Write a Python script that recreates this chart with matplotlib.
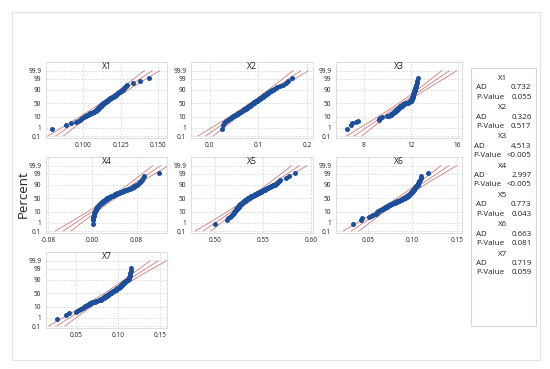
import numpy as np
import matplotlib
matplotlib.use('Agg')
import matplotlib.pyplot as plt
from matplotlib.patches import Rectangle
from statistics import NormalDist

plt.rcParams['font.family'] = ['Open Sans', 'DejaVu Sans']

# sorted sample values (n = 90 per variable)
x1 = [0.0792, 0.0884, 0.0915, 0.0951, 0.0962, 0.0975, 0.0985, 0.0993, 0.1004, 0.1012,
      0.1020, 0.1026, 0.1031, 0.1037, 0.1042, 0.1047, 0.1056, 0.1065, 0.1070, 0.1074,
      0.1078, 0.1082, 0.1086, 0.1089, 0.1092, 0.1094, 0.1096, 0.1098, 0.1101, 0.1103,
      0.1106, 0.1108, 0.1110, 0.1112, 0.1113, 0.1115, 0.1117, 0.1119, 0.1121, 0.1124,
      0.1125, 0.1127, 0.1129, 0.1131, 0.1133, 0.1135, 0.1138, 0.1141, 0.1144, 0.1147,
      0.1149, 0.1152, 0.1155, 0.1158, 0.1160, 0.1163, 0.1165, 0.1168, 0.1171, 0.1173,
      0.1176, 0.1178, 0.1183, 0.1187, 0.1191, 0.1196, 0.1201, 0.1205, 0.1209, 0.1212,
      0.1216, 0.1220, 0.1224, 0.1228, 0.1232, 0.1235, 0.1239, 0.1244, 0.1250, 0.1255,
      0.1259, 0.1263, 0.1267, 0.1273, 0.1279, 0.1287, 0.1295, 0.1335, 0.1380, 0.1442]
x2 = [0.0250, 0.0270, 0.0290, 0.0310, 0.0340, 0.0370, 0.0400, 0.0430, 0.0460, 0.0480,
      0.0500, 0.0520, 0.0540, 0.0560, 0.0577, 0.0590, 0.0604, 0.0618, 0.0631, 0.0645,
      0.0658, 0.0669, 0.0682, 0.0692, 0.0706, 0.0716, 0.0726, 0.0737, 0.0749, 0.0758,
      0.0767, 0.0776, 0.0785, 0.0794, 0.0800, 0.0809, 0.0818, 0.0827, 0.0836, 0.0845,
      0.0853, 0.0861, 0.0869, 0.0877, 0.0886, 0.0894, 0.0903, 0.0912, 0.0921, 0.0930,
      0.0938, 0.0948, 0.0957, 0.0967, 0.0976, 0.0986, 0.0992, 0.1002, 0.1012, 0.1021,
      0.1031, 0.1040, 0.1053, 0.1062, 0.1071, 0.1080, 0.1092, 0.1101, 0.1113, 0.1122,
      0.1134, 0.1146, 0.1158, 0.1170, 0.1182, 0.1194, 0.1210, 0.1227, 0.1244, 0.1261,
      0.1282, 0.1302, 0.1326, 0.1353, 0.1390, 0.1440, 0.1500, 0.1560, 0.1600, 0.1680]
x3 = [6.52, 6.86, 6.97, 7.32, 7.46, 9.25, 9.30, 9.40, 9.50, 10.00,
      10.10, 10.21, 10.27, 10.33, 10.39, 10.44, 10.48, 10.53, 10.58, 10.62,
      10.67, 10.70, 10.75, 10.79, 10.83, 10.86, 10.89, 10.92, 10.95, 10.98,
      11.01, 11.04, 11.07, 11.10, 11.12, 11.16, 11.19, 11.23, 11.26, 11.30,
      11.33, 11.36, 11.39, 11.45, 11.54, 11.63, 11.71, 11.76, 11.81, 11.85,
      11.88, 11.92, 11.96, 11.98, 12.01, 12.03, 12.05, 12.06, 12.07, 12.08,
      12.09, 12.10, 12.12, 12.13, 12.14, 12.15, 12.16, 12.17, 12.18, 12.19,
      12.20, 12.21, 12.22, 12.23, 12.24, 12.25, 12.26, 12.27, 12.28, 12.30,
      12.32, 12.35, 12.37, 12.40, 12.42, 12.44, 12.47, 12.50, 12.55, 12.62]
x4 = [0.0010, 0.0013, 0.0016, 0.0020, 0.0023, 0.0027, 0.0032, 0.0039, 0.0045, 0.0050,
      0.0056, 0.0060, 0.0065, 0.0069, 0.0074, 0.0078, 0.0082, 0.0085, 0.0089, 0.0095,
      0.0102, 0.0107, 0.0115, 0.0121, 0.0128, 0.0134, 0.0140, 0.0145, 0.0154, 0.0161,
      0.0169, 0.0176, 0.0183, 0.0191, 0.0196, 0.0203, 0.0210, 0.0218, 0.0225, 0.0233,
      0.0239, 0.0246, 0.0253, 0.0260, 0.0267, 0.0275, 0.0286, 0.0296, 0.0306, 0.0317,
      0.0326, 0.0338, 0.0349, 0.0360, 0.0372, 0.0385, 0.0393, 0.0405, 0.0417, 0.0430,
      0.0442, 0.0455, 0.0474, 0.0488, 0.0503, 0.0517, 0.0536, 0.0551, 0.0570, 0.0586,
      0.0608, 0.0630, 0.0652, 0.0674, 0.0694, 0.0709, 0.0728, 0.0746, 0.0761, 0.0776,
      0.0793, 0.0810, 0.0824, 0.0841, 0.0858, 0.0875, 0.0890, 0.0910, 0.0940, 0.1210]
x5 = [0.4993, 0.5125, 0.5135, 0.5150, 0.5160, 0.5180, 0.5189, 0.5195, 0.5201, 0.5206,
      0.5210, 0.5214, 0.5218, 0.5222, 0.5226, 0.5229, 0.5233, 0.5236, 0.5240, 0.5243,
      0.5247, 0.5249, 0.5253, 0.5256, 0.5259, 0.5263, 0.5267, 0.5270, 0.5276, 0.5280,
      0.5284, 0.5288, 0.5292, 0.5295, 0.5298, 0.5302, 0.5306, 0.5310, 0.5314, 0.5318,
      0.5323, 0.5327, 0.5332, 0.5336, 0.5341, 0.5346, 0.5350, 0.5355, 0.5360, 0.5364,
      0.5369, 0.5376, 0.5382, 0.5389, 0.5395, 0.5402, 0.5406, 0.5413, 0.5419, 0.5426,
      0.5433, 0.5439, 0.5448, 0.5454, 0.5461, 0.5468, 0.5476, 0.5483, 0.5492, 0.5498,
      0.5507, 0.5516, 0.5525, 0.5534, 0.5543, 0.5552, 0.5563, 0.5575, 0.5585, 0.5596,
      0.5608, 0.5621, 0.5632, 0.5643, 0.5655, 0.5665, 0.5680, 0.5745, 0.5770, 0.5835]
x6 = [0.0340, 0.0430, 0.0440, 0.0520, 0.0540, 0.0560, 0.0588, 0.0600, 0.0609, 0.0617,
      0.0629, 0.0640, 0.0651, 0.0662, 0.0673, 0.0681, 0.0689, 0.0697, 0.0705, 0.0712,
      0.0720, 0.0726, 0.0734, 0.0740, 0.0748, 0.0756, 0.0764, 0.0773, 0.0785, 0.0793,
      0.0802, 0.0811, 0.0819, 0.0827, 0.0832, 0.0840, 0.0847, 0.0855, 0.0862, 0.0870,
      0.0876, 0.0883, 0.0889, 0.0896, 0.0902, 0.0908, 0.0915, 0.0921, 0.0927, 0.0934,
      0.0937, 0.0943, 0.0947, 0.0951, 0.0955, 0.0960, 0.0963, 0.0967, 0.0971, 0.0975,
      0.0978, 0.0981, 0.0985, 0.0988, 0.0991, 0.0994, 0.0998, 0.1001, 0.1004, 0.1007,
      0.1011, 0.1015, 0.1019, 0.1023, 0.1026, 0.1030, 0.1035, 0.1040, 0.1044, 0.1048,
      0.1053, 0.1058, 0.1064, 0.1069, 0.1074, 0.1080, 0.1086, 0.1095, 0.1100, 0.1180]
x7 = [0.0272, 0.0376, 0.0412, 0.0490, 0.0505, 0.0535, 0.0555, 0.0574, 0.0589, 0.0602,
      0.0615, 0.0625, 0.0636, 0.0647, 0.0658, 0.0667, 0.0680, 0.0692, 0.0705, 0.0721,
      0.0738, 0.0750, 0.0767, 0.0780, 0.0790, 0.0796, 0.0801, 0.0807, 0.0815, 0.0821,
      0.0827, 0.0832, 0.0838, 0.0844, 0.0848, 0.0853, 0.0859, 0.0865, 0.0870, 0.0876,
      0.0881, 0.0886, 0.0891, 0.0896, 0.0901, 0.0907, 0.0912, 0.0917, 0.0922, 0.0927,
      0.0932, 0.0938, 0.0943, 0.0949, 0.0955, 0.0960, 0.0964, 0.0970, 0.0976, 0.0981,
      0.0987, 0.0993, 0.1001, 0.1006, 0.1012, 0.1018, 0.1025, 0.1029, 0.1034, 0.1038,
      0.1043, 0.1048, 0.1053, 0.1058, 0.1063, 0.1069, 0.1077, 0.1085, 0.1093, 0.1101,
      0.1109, 0.1117, 0.1126, 0.1133, 0.1136, 0.1140, 0.1144, 0.1147, 0.1152, 0.1158]

names = ['X1', 'X2', 'X3', 'X4', 'X5', 'X6', 'X7']
samples = [x1, x2, x3, x4, x5, x6, x7]
x_ticks = [[0.100, 0.125, 0.150], [0.0, 0.1, 0.2], [8, 12, 16], [-0.08, 0.00, 0.08],
           [0.50, 0.55, 0.60], [0.05, 0.10, 0.15], [0.05, 0.10, 0.15]]
x_ticklabels = [['0.100', '0.125', '0.150'], ['0.0', '0.1', '0.2'], ['8', '12', '16'],
                ['-0.08', '0.00', '0.08'], ['0.50', '0.55', '0.60'],
                ['0.05', '0.10', '0.15'], ['0.05', '0.10', '0.15']]
x_lims = [(0.0750, 0.1560), (-0.038, 0.212), (5.61, 16.38), (-0.0836, 0.1350),
          (0.4745, 0.6024), (0.01455, 0.1556), (0.0136, 0.1588)]
pct_ticks = [0.1, 1, 10, 50, 90, 99, 99.9]
pct_labels = ['0.1', '1', '10', '50', '90', '99', '99.9']
ad_values = ['0.732', '0.326', '4.513', '2.997', '0.773', '0.663', '0.719']
p_values = ['0.055', '0.517', '<0.005', '<0.005', '0.043', '0.081', '0.059']

ND = NormalDist()
_fwd = np.vectorize(lambda p: ND.inv_cdf(min(max(p / 100.0, 1e-9), 1 - 1e-9)), otypes=[float])
_inv = np.vectorize(lambda z: ND.cdf(z) * 100.0, otypes=[float])

W, H = 550, 369
fig = plt.figure(figsize=(W / 100, H / 100), dpi=100)

# light outer frame and legend frame
fig.patches.append(Rectangle((12 / W, 1 - 360 / H), 528 / W, 348 / H, transform=fig.transFigure,
                             fill=False, edgecolor='#e4e4e4', lw=0.8))
fig.patches.append(Rectangle((471 / W, 1 - 326 / H), 65 / W, 258 / H, transform=fig.transFigure,
                             fill=False, edgecolor='#d6d6d6', lw=0.8))

col_left = [46, 191, 336]
col_w = [121, 122, 126]
row_top = [62, 157, 252]
box_h = 75.5

blue = '#1b4f9c'
red = '#d27b7b'
txt = '#222222'
zc = 1.959964

for k, (name, vals) in enumerate(zip(names, samples)):
    r, c = divmod(k, 3)
    ax = fig.add_axes([col_left[c] / W, 1 - (row_top[r] + box_h) / H, col_w[c] / W, box_h / H])
    ax.set_yscale('function', functions=(_fwd, _inv))

    x = np.sort(np.asarray(vals, dtype=float))
    n = len(x)
    pct = (np.arange(1, n + 1) - 0.3) / (n + 0.4) * 100
    mu, sd = x.mean(), x.std(ddof=1)

    zz = np.linspace(-3.09, 3.09, 120)
    pp = _inv(zz)
    fit = mu + sd * zz
    half = zc * sd * np.sqrt(1.0 / n + zz ** 2 / (2.0 * n))
    for line in (fit, fit - half, fit + half):
        ax.plot(line, pp, color=red, lw=0.6, zorder=2)

    ax.plot(x, pct, 'o', color=blue, ms=3.6, mew=0, zorder=3)

    ax.set_ylim(0.0615, 99.9954)
    ax.set_xlim(*x_lims[k])
    ax.set_yticks(pct_ticks)
    ax.set_yticklabels(pct_labels)
    ax.yaxis.set_minor_locator(matplotlib.ticker.NullLocator())
    ax.set_xticks(x_ticks[k])
    ax.set_xticklabels(x_ticklabels[k])
    ax.tick_params(axis='both', length=0, labelsize=4.7, colors=txt)
    ax.tick_params(axis='x', pad=3.5)
    ax.tick_params(axis='y', pad=3.5)
    ax.grid(True, color='#d4d4d4', lw=0.5, linestyle=(0, (3, 2)), zorder=0)
    for sp in ax.spines.values():
        sp.set_color('#d8d8d8')
        sp.set_linewidth(0.6)
    ax.text(0.5, 1 - 4.8 / box_h, name, transform=ax.transAxes, ha='center', va='center',
            fontsize=6.2, color=txt)

fig.text(23.5 / W, 1 - 194 / H, 'Percent', rotation=90, ha='center', va='center',
         fontsize=9.5, color=txt)

# Anderson-Darling summary table
fs = 5.8
for k, name in enumerate(names):
    y0 = 78.3 + 29.3 * k
    left = 473.5 if p_values[k].startswith('<') else 476.5
    fig.text(503 / W, 1 - y0 / H, name, ha='center', va='center', fontsize=fs, color=txt)
    fig.text(left / W, 1 - (y0 + 9.5) / H, 'AD', ha='left', va='center', fontsize=fs, color=txt)
    fig.text(531.5 / W, 1 - (y0 + 9.5) / H, ad_values[k], ha='right', va='center', fontsize=fs, color=txt)
    fig.text(left / W, 1 - (y0 + 18.8) / H, 'P-Value', ha='left', va='center', fontsize=fs, color=txt)
    fig.text(531.5 / W, 1 - (y0 + 18.8) / H, p_values[k], ha='right', va='center', fontsize=fs, color=txt)

fig.savefig('out.png', dpi=100, facecolor='white')
